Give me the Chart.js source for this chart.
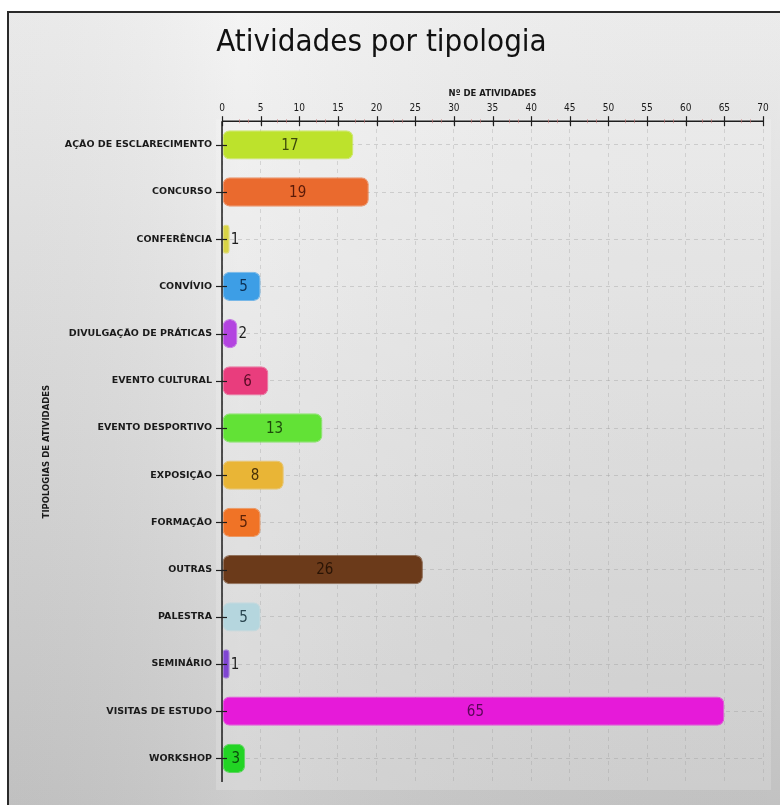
<!DOCTYPE html>
<html>
<head>
<meta charset="utf-8">
<script src="https://cdn.jsdelivr.net/npm/chart.js@4"></script>
<style>
  html, body { margin: 0; padding: 0; background: #ffffff; }
  #wrap { width: 780px; height: 805px; position: relative; }
  canvas { display: block; }
</style>
</head>
<body>
<div id="wrap"><canvas id="c" width="780" height="805"></canvas></div>
<script>
const categories = [
  "AÇÃO DE ESCLARECIMENTO", "CONCURSO", "CONFERÊNCIA", "CONVÍVIO",
  "DIVULGAÇÃO DE PRÁTICAS", "EVENTO CULTURAL", "EVENTO DESPORTIVO",
  "EXPOSIÇÃO", "FORMAÇÃO", "OUTRAS", "PALESTRA", "SEMINÁRIO",
  "VISITAS DE ESTUDO", "WORKSHOP"
];
const values = [17, 19, 1, 5, 2, 6, 13, 8, 5, 26, 5, 1, 65, 3];
const barColors = [
  "#bde22c", "#ea6a2e", "#d9d446", "#3d9ee6", "#b344e0", "#e93d7d", "#62e236",
  "#e9b536", "#f07326", "#6b3a1a", "#b5d6de", "#7f45d2", "#e61ad9", "#22d424"
];
const labelColors = [
  "#3d4a0a", "#5a1a08", "#2a2a10", "#0d2f52", "#3a0d50", "#5a0b25", "#1d4a0b",
  "#4a3208", "#5a2208", "#2a1405", "#2a4650", "#2a1050", "#5a0658", "#0b4a0b"
];
const xTickLabels = ["0","5","10","15","20","25","30","35","40","45","50","55","60","65","70"];
const mainTitle = "Atividades por tipologia";
const xTitle = "Nº DE ATIVIDADES";
const yTitle = "TIPOLOGIAS DE ATIVIDADES";

const FONT = "'DejaVu Sans', sans-serif";
const CFONT = "'DejaVu Sans Condensed', 'DejaVu Sans', sans-serif";

const backgroundPlugin = {
  id: 'bgFrame',
  beforeDraw(chart) {
    const {ctx, width, height} = chart;
    ctx.save();
    ctx.fillStyle = '#ffffff';
    ctx.fillRect(0, 0, width, height);
    const g = ctx.createLinearGradient(0, 12, 0, height);
    g.addColorStop(0, '#f3f3f3');
    g.addColorStop(0.5, '#dedede');
    g.addColorStop(1, '#c8c8c8');
    ctx.fillStyle = g;
    ctx.fillRect(8, 12, width, height);
    const h = ctx.createLinearGradient(8, 0, width, 0);
    h.addColorStop(0, 'rgba(0,0,0,0.04)');
    h.addColorStop(0.3, 'rgba(255,255,255,0.08)');
    h.addColorStop(1, 'rgba(0,0,0,0.03)');
    ctx.fillStyle = h;
    ctx.fillRect(8, 12, width, height);
    const a = chart.chartArea;
    ctx.fillStyle = 'rgba(255,255,255,0.18)';
    ctx.fillRect(a.left - 6, a.top - 2, a.right - a.left + 14, a.bottom - a.top + 10);
    ctx.strokeStyle = '#2a2a2a';
    ctx.lineWidth = 2;
    ctx.beginPath();
    ctx.moveTo(8, height);
    ctx.lineTo(8, 12);
    ctx.lineTo(width, 12);
    ctx.stroke();
    ctx.restore();
  }
};

const axisPlugin = {
  id: 'axisMarks',
  afterDatasetsDraw(chart) {
    const {ctx, chartArea: a, scales} = chart;
    const x = scales.x, y = scales.y;
    ctx.save();
    ctx.strokeStyle = '#1e1e1e';
    ctx.lineWidth = 1.5;
    ctx.beginPath();
    ctx.moveTo(a.left, a.top);
    ctx.lineTo(x.right, a.top);
    ctx.moveTo(a.left, a.top);
    ctx.lineTo(a.left, a.bottom);
    ctx.stroke();
    // minor ticks on x axis
    ctx.strokeStyle = 'rgba(200,120,120,0.6)';
    ctx.lineWidth = 1;
    for (let v = 0; v < x.max; v += 1) {
      const r = v % 5;
      if (r === 2 || r === 3) {
        const px = Math.round(x.getPixelForValue(v + (r === 2 ? 0.5 : 0.5) - 0.5 + (r === 2 ? 0.17 : 0.33))) + 0.5;
        ctx.beginPath();
        ctx.moveTo(px, a.top - 2);
        ctx.lineTo(px, a.top + 2);
        ctx.stroke();
      }
    }
    ctx.strokeStyle = '#1e1e1e';
    ctx.lineWidth = 1.2;
    x.ticks.forEach(t => {
      const px = Math.round(x.getPixelForValue(t.value)) + 0.5;
      ctx.beginPath();
      ctx.moveTo(px, a.top - 5);
      ctx.lineTo(px, a.top + 5);
      ctx.stroke();
    });
    categories.forEach((c, i) => {
      const py = Math.round(y.getPixelForValue(i)) + 0.5;
      ctx.beginPath();
      ctx.moveTo(a.left - 6, py);
      ctx.lineTo(a.left + 5, py);
      ctx.stroke();
    });
    ctx.restore();
  },
  afterDraw(chart) {
    const {ctx} = chart;
    const meta = chart.getDatasetMeta(0);
    ctx.save();
    ctx.textBaseline = 'middle';
    meta.data.forEach((bar, i) => {
      const v = values[i];
      const w = bar.x - bar.base;
      ctx.font = "15px " + CFONT;
      const tw = ctx.measureText(String(v)).width;
      let tx;
      ctx.fillStyle = labelColors[i];
      if (w < tw + 9) {
        ctx.textAlign = 'left';
        tx = bar.x + 1;
        ctx.fillStyle = '#1e1e1e';
      } else {
        ctx.textAlign = 'center';
        tx = (bar.x + bar.base) / 2 + 2;
      }
      ctx.fillText(String(v), tx, bar.y + 1);
    });
    ctx.restore();
  }
};

new Chart(document.getElementById('c'), {
  type: 'bar',
  data: {
    labels: categories,
    datasets: [{
      data: values,
      backgroundColor: barColors,
      borderColor: barColors.map(c => c + 'aa'),
      borderWidth: 1,
      borderRadius: 7,
      borderSkipped: false,
      barPercentage: 0.62,
      categoryPercentage: 1.0
    }]
  },
  plugins: [backgroundPlugin, axisPlugin],
  options: {
    indexAxis: 'y',
    responsive: false,
    animation: false,
    devicePixelRatio: 1,
    layout: { padding: { left: 0, right: 17, bottom: 23, top: 0 } },
    plugins: {
      legend: { display: false },
      tooltip: { enabled: false },
      title: {
        display: true,
        text: mainTitle,
        color: '#111111',
        font: { family: CFONT, size: 31, weight: '200' },
        padding: { top: 24, bottom: 8 }
      }
    },
    scales: {
      x: {
        position: 'top',
        min: 0,
        max: 70,
        afterBuildTicks(scale) {
          scale.ticks = xTickLabels.map(s => ({ value: Number(s) }));
        },
        afterFit(scale) { scale.height = 52; },
        ticks: {
          color: '#1a1a1a',
          font: { family: CFONT, size: 10 },
          padding: 7,
          maxRotation: 0,
          callback: (v, i) => xTickLabels[i]
        },
        grid: {
          drawTicks: false,
          color: 'rgba(150,150,150,0.3)',
          lineWidth: 1
        },
        border: { display: false, dash: [4, 4] },
        title: {
          display: true,
          text: xTitle,
          color: '#1a1a1a',
          font: { family: FONT, size: 8.5, weight: 'bold' },
          padding: { top: 19, bottom: 0 }
        }
      },
      y: {
        afterFit(scale) { scale.width = 222; },
        ticks: {
          color: '#1a1a1a',
          font: { family: FONT, size: 9.5, weight: 'bold' },
          padding: 10
        },
        grid: {
          offset: false,
          drawTicks: false,
          color: 'rgba(150,150,150,0.35)',
          lineWidth: 1
        },
        border: { display: false, dash: [4, 4] },
        title: {
          display: true,
          text: yTitle,
          color: '#1a1a1a',
          font: { family: FONT, size: 8.5, weight: 'bold' },
          padding: { top: 42, bottom: 0 }
        }
      }
    }
  }
});
</script>
</body>
</html>
